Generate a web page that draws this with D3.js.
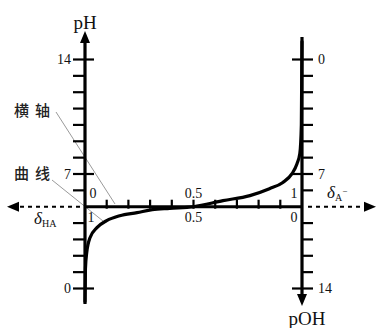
<!DOCTYPE html>
<html>
<head>
<meta charset="utf-8">
<script src="https://cdn.jsdelivr.net/npm/d3@7"></script>
<style>
  body { margin: 0; background: #fff; }
  svg { display: block; }
  .num { font-family: "Liberation Serif", "DejaVu Serif", serif; fill: #111; }
  .cjk { font-family: "Noto Sans CJK SC", sans-serif; fill: #222; font-weight: 500; }
</style>
</head>
<body>
<svg id="chart" width="380" height="328"></svg>
<script>
// axis tick values
const pHTicks = [0, 1, 2, 3, 4, 5, 6, 7, 8, 9, 10, 11, 12, 13, 14];
const pOHTicks = [0, 1, 2, 3, 4, 5, 6, 7, 8, 9, 10, 11, 12, 13, 14];
const majorTicks = [0, 7, 14];
const deltaTicks = [0.1, 0.2, 0.3, 0.4, 0.5, 0.6, 0.7, 0.8, 0.9];

// curve: delta(A-) vs pH
const curveDelta = [0, 0.002, 0.008, 0.023, 0.055, 0.10, 0.16, 0.24, 0.31, 0.39, 0.50, 0.636, 0.76, 0.85, 0.91, 0.954, 0.977, 0.99, 0.997, 1.0];
const curvePH    = [-0.8, 1.2, 2.2, 3.1, 3.72, 4.15, 4.45, 4.64, 4.82, 4.9, 5.0, 5.37, 5.68, 6.1, 6.47, 7.02, 7.63, 8.25, 10, 15.1];

const axisPH = 5; // horizontal axis sits at pH 5

const svg = d3.select('#chart');
const x = d3.scaleLinear().domain([0, 1]).range([85, 302]);
const y = d3.scaleLinear().domain([0, 14]).range([288.5, 59.5]);
const yOH = d3.scaleLinear().domain([0, 14]).range([59.5, 288.5]);
const y0 = y(axisPH);

function arrow(g, tx, ty, dir) {
  const w = 5, h = 12;
  let pts;
  if (dir === 'up') pts = [[tx, ty], [tx - w, ty + h], [tx + w, ty + h]];
  if (dir === 'down') pts = [[tx, ty], [tx - w, ty - h], [tx + w, ty - h]];
  if (dir === 'left') pts = [[tx, ty], [tx + h, ty - w], [tx + h, ty + w]];
  if (dir === 'right') pts = [[tx, ty], [tx - h, ty - w], [tx - h, ty + w]];
  g.append('path').attr('d', 'M' + pts.join('L') + 'Z').attr('fill', '#000');
}

// leader lines for the labels
const lead = svg.append('g').attr('stroke', '#9a9a9a').attr('stroke-width', 1);
lead.append('line').attr('x1', 56).attr('y1', 112).attr('x2', 115).attr('y2', 204);
lead.append('line').attr('x1', 52).attr('y1', 180).attr('x2', 103).attr('y2', 221);
svg.append('text').attr('class', 'cjk').attr('x', 14).attr('y', 116)
  .attr('font-size', 15).attr('letter-spacing', 6).text('横轴');
svg.append('text').attr('class', 'cjk').attr('x', 14).attr('y', 179)
  .attr('font-size', 15).attr('letter-spacing', 6).text('曲线');

// horizontal axis
const hx = svg.append('g');
hx.append('line').attr('x1', 20).attr('x2', x(0)).attr('y1', y0).attr('y2', y0)
  .attr('stroke', '#000').attr('stroke-width', 2).attr('stroke-dasharray', '4,4');
hx.append('line').attr('x1', x(1) + 6).attr('x2', 364).attr('y1', y0).attr('y2', y0)
  .attr('stroke', '#000').attr('stroke-width', 2).attr('stroke-dasharray', '4,4');
arrow(hx, 7, y0, 'left');
arrow(hx, 376, y0, 'right');
hx.append('line').attr('x1', x(0)).attr('x2', x(1)).attr('y1', y0).attr('y2', y0)
  .attr('stroke', '#000').attr('stroke-width', 3);
hx.selectAll('line.dt').data(deltaTicks).join('line').attr('class', 'dt')
  .attr('x1', d => x(d)).attr('x2', d => x(d))
  .attr('y1', y0 - 7).attr('y2', y0 + 2)
  .attr('stroke', '#000').attr('stroke-width', 2.2);

// left pH axis
const la = svg.append('g');
la.append('line').attr('x1', x(0)).attr('x2', x(0)).attr('y1', 40).attr('y2', 304)
  .attr('stroke', '#000').attr('stroke-width', 3.2);
arrow(la, x(0), 31, 'up');
la.selectAll('line.t').data(pHTicks.filter(d => d !== axisPH)).join('line').attr('class', 't')
  .attr('x1', d => x(0) - 12).attr('x2', d => majorTicks.includes(d) ? x(0) + 9 : x(0))
  .attr('y1', d => y(d)).attr('y2', d => y(d))
  .attr('stroke', '#000').attr('stroke-width', 2.2);
la.selectAll('text').data(majorTicks).join('text').attr('class', 'num')
  .attr('x', x(0) - 14).attr('y', d => y(d)).attr('dy', '0.35em')
  .attr('text-anchor', 'end').attr('font-size', 14).text(d => d);
svg.append('text').attr('class', 'num').attr('x', x(0)).attr('y', 29)
  .attr('text-anchor', 'middle').attr('font-size', 19).text('pH');

// right pOH axis
const ra = svg.append('g');
ra.append('line').attr('x1', x(1)).attr('x2', x(1)).attr('y1', 37).attr('y2', 296)
  .attr('stroke', '#000').attr('stroke-width', 3.2);
arrow(ra, x(1), 306, 'down');
ra.selectAll('line.t').data(pOHTicks.filter(d => d !== 14 - axisPH)).join('line').attr('class', 't')
  .attr('x1', d => majorTicks.includes(d) ? x(1) - 10 : x(1)).attr('x2', x(1) + 11)
  .attr('y1', d => yOH(d)).attr('y2', d => yOH(d))
  .attr('stroke', '#000').attr('stroke-width', 2.2);
ra.selectAll('text').data(majorTicks).join('text').attr('class', 'num')
  .attr('x', x(1) + 16).attr('y', d => yOH(d)).attr('dy', '0.35em')
  .attr('text-anchor', 'start').attr('font-size', 14).text(d => d);
svg.append('text').attr('class', 'num').attr('x', x(1) + 5).attr('y', 325)
  .attr('text-anchor', 'middle').attr('font-size', 19).text('pOH');

// delta labels on the horizontal axis
const topLabels = [[0, '0'], [0.5, '0.5'], [1, '1']];
const botLabels = [[0, '1'], [0.5, '0.5'], [1, '0']];
svg.selectAll('text.tl').data(topLabels).join('text').attr('class', 'num tl')
  .attr('x', (d, i) => i === 0 ? x(d[0]) + 8 : i === 2 ? x(d[0]) - 8 : x(d[0]))
  .attr('y', y0 - 9).attr('text-anchor', 'middle').attr('font-size', 14).text(d => d[1]);
svg.selectAll('text.bl').data(botLabels).join('text').attr('class', 'num bl')
  .attr('x', (d, i) => i === 0 ? x(d[0]) + 6 : i === 2 ? x(d[0]) - 8 : x(d[0]))
  .attr('y', y0 + 15).attr('text-anchor', 'middle').attr('font-size', 14).text(d => d[1]);

const dHA = svg.append('text').attr('class', 'num').attr('x', 34).attr('y', 224).attr('font-size', 17);
dHA.append('tspan').attr('font-style', 'italic').text('δ');
dHA.append('tspan').attr('font-size', 10).attr('dy', 3).text('HA');
const dA = svg.append('text').attr('class', 'num').attr('x', 327).attr('y', 198).attr('font-size', 17);
dA.append('tspan').attr('font-style', 'italic').text('δ');
dA.append('tspan').attr('font-size', 10).attr('dy', 3).text('A');
dA.append('tspan').attr('font-size', 9).attr('dy', -7).text('−');

// the curve
const pts = curveDelta.map((d, i) => [d, curvePH[i]]);
const line = d3.line().x(d => x(d[0])).y(d => y(d[1])).curve(d3.curveMonotoneX);
svg.append('path').attr('d', line(pts)).attr('fill', 'none')
  .attr('stroke', '#000').attr('stroke-width', 3.2).attr('stroke-linecap', 'round');
</script>
</body>
</html>
